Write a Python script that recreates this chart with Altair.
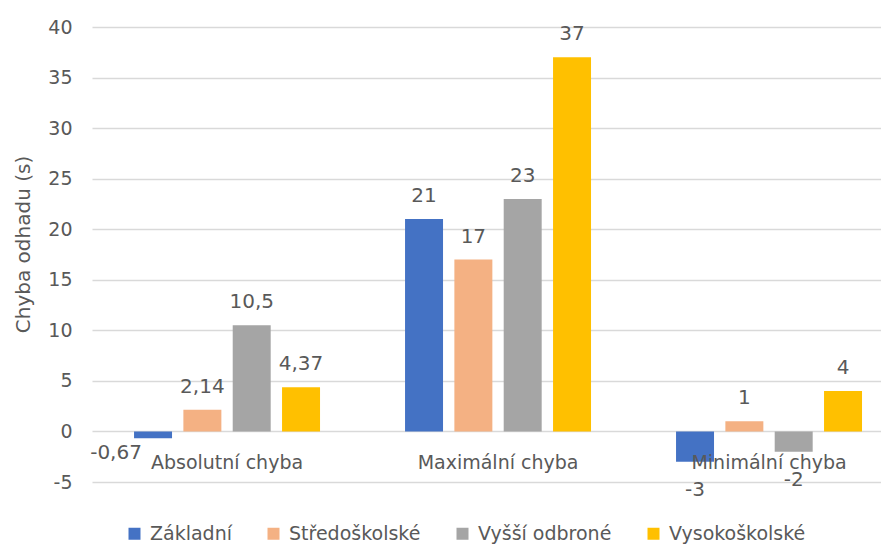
import altair as alt
import pandas as pd

categories = ["Absolutní chyba", "Maximální chyba", "Minimální chyba"]
series = ["Základní", "Středoškolské", "Vyšší odbroné", "Vysokoškolské"]
colors = ["#4472C4", "#F4B183", "#A5A5A5", "#FFC000"]

zakladni = [-0.67, 21, -3]
stredoskolske = [2.14, 17, 1]
vyssi_odbrone = [10.5, 23, -2]
vysokoskolske = [4.37, 37, 4]

values_by_series = [zakladni, stredoskolske, vyssi_odbrone, vysokoskolske]
rows = []
for s, vals in zip(series, values_by_series):
    for c, v in zip(categories, vals):
        rows.append({"category": c, "series": s, "value": v})
df = pd.DataFrame(rows)
cat_df = pd.DataFrame({"category": categories, "value": [0, 0, 0]})

FONT = "DejaVu Sans"
TXT = "#595959"

x_enc = alt.X(
    "category:N",
    sort=categories,
    scale=alt.Scale(domain=categories, paddingInner=0.3137, paddingOuter=0.1126, align=0.689),
    axis=None,
)
xo_enc = alt.XOffset(
    "series:N",
    sort=series,
    scale=alt.Scale(domain=series, paddingInner=0.23, paddingOuter=0),
)
y_enc = alt.Y(
    "value:Q",
    scale=alt.Scale(domain=[-5, 40], nice=False, zero=False),
    axis=alt.Axis(
        values=list(range(-5, 41, 5)),
        title="Chyba odhadu (s)",
        labelExpr="toString(datum.value)",
        domain=False,
        ticks=False,
        tickSize=0,
        labelPadding=20,
        labelFont=FONT,
        labelFontSize=19,
        labelColor=TXT,
        titleFont=FONT,
        titleFontSize=20,
        titleFontWeight="normal",
        titleColor=TXT,
        titleX=-69,
        titleY=217,
        titleAngle=-90,
        titleAlign="center",
        titleBaseline="middle",
        gridColor="#d9d9d9",
        gridWidth=1.5,
    ),
)

base = alt.Chart(df).transform_calculate(
    lbl="replace(toString(datum.value), '.', ',')"
)

bars = base.mark_bar().encode(
    x=x_enc,
    xOffset=xo_enc,
    y=y_enc,
    color=alt.Color(
        "series:N",
        sort=series,
        scale=alt.Scale(domain=series, range=colors),
        legend=alt.Legend(
            title=None,
            orient="none",
            direction="horizontal",
            legendX=33,
            legendY=497,
            symbolType="square",
            symbolSize=144,
            symbolStrokeWidth=0,
            labelFont=FONT,
            labelFontSize=19,
            labelColor=TXT,
            labelOffset=6,
            columnPadding=32,
            padding=0,
        ),
    ),
)

pos_labels = base.transform_filter("datum.value >= 0").mark_text(
    font=FONT, fontSize=20, color=TXT, baseline="alphabetic", dy=-17
).encode(x=x_enc, xOffset=xo_enc, y=y_enc, text="lbl:N")

neg_labels = base.transform_filter("datum.value <= -1").mark_text(
    font=FONT, fontSize=20, color=TXT, baseline="alphabetic", dy=34
).encode(x=x_enc, xOffset=xo_enc, y=y_enc, text="lbl:N")

small_neg = base.transform_filter("datum.value < 0 && datum.value > -1").mark_text(
    font=FONT, fontSize=20, color=TXT, baseline="alphabetic", dy=21, dx=-37
).encode(x=x_enc, xOffset=xo_enc, y=y_enc, text="lbl:N")

cat_labels = alt.Chart(cat_df).mark_text(
    font=FONT, fontSize=19, color=TXT, baseline="alphabetic", dy=38
).encode(x=x_enc, y=y_enc, text="category:N")

chart = alt.layer(bars, pos_labels, neg_labels, small_neg, cat_labels).properties(
    width=789,
    height=455,
    autosize=alt.AutoSizeParams(type="none"),
    padding={"left": 84, "top": 19, "right": 0, "bottom": 63},
    background="white",
).configure_view(strokeWidth=0).configure_axis(domain=False, ticks=False)

chart.save("out.html", embed_options={"renderer": "svg", "actions": False})
